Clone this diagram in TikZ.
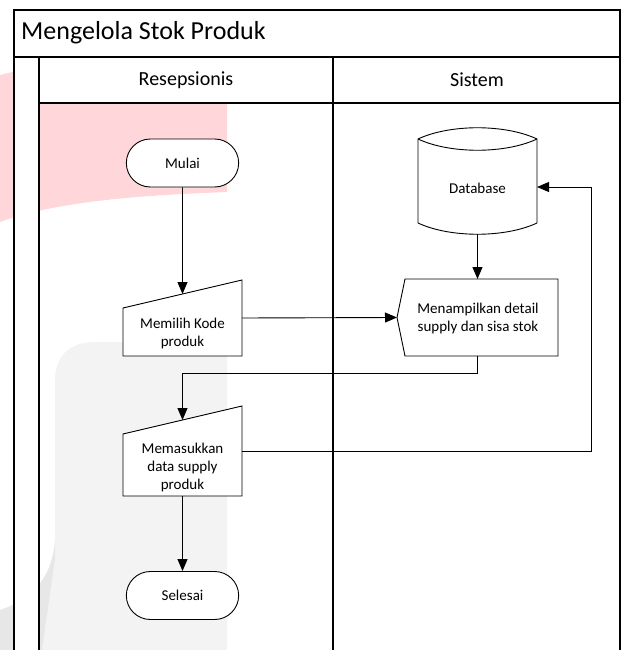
\documentclass[tikz,border=0pt]{standalone}
\usepackage{fontspec}
\setmainfont{Carlito}
\usetikzlibrary{shapes.misc,arrows.meta}
\definecolor{wmred}{RGB}{255,214,218}
\definecolor{wmgray}{RGB}{243,243,243}
\definecolor{wmgraydark}{RGB}{231,231,231}
\newcommand{\teks}[0] {\fontsize{15}{18}\selectfont}
\tikzset{
  terminal/.style={shape=rounded rectangle,draw=black,fill=white,line width=0.9pt,minimum width=119pt,minimum height=48pt,font=\teks},
  isi/.style={align=center,font=\teks,inner sep=0pt},
  garis/.style={line width=0.9pt},
  panah/.style={garis,-{Triangle[length=12pt,width=10pt]}},
}
\begin{document}
\begin{tikzpicture}[x=1pt,y=-1pt]
        \useasboundingbox (0,0) rectangle (621,650);
        %watermark
        \fill[wmred] (0,75) -- (227,20) -- (227,192) .. controls (150,195) and (60,200) .. (0,222) -- cycle;
        \fill[wmgray] (55,380) .. controls (55,356) and (70,342) .. (95,342) -- (227,342) -- (227,650) -- (42,650) -- (55,560) -- cycle;
        \fill[wmgraydark] (55,540) .. controls (52,580) and (30,600) .. (0,610) -- (0,650) -- (42,650) -- (55,560) -- cycle;
        %frame
        \fill[white] (14,10) rectangle (620,57);
        \fill[white] (14,57) rectangle (39,652);
        \fill[white] (39,57) rectangle (620,103);
        \draw[line width=1.1pt] (14,652) -- (14,10) -- (620,10) -- (620,652);
        \draw[line width=1.1pt] (14,57) -- (620,57);
        \draw[line width=1.1pt] (39,57) -- (39,652);
        \draw[line width=1.1pt] (333,57) -- (333,652);
        \draw[line width=1.1pt] (39,103) -- (620,103);
        %labels
        \node[anchor=west,inner sep=0pt,font=\fontsize{26}{30}\selectfont] (judul) at (21,33) {Mengelola Stok Produk};
        \node[font=\fontsize{20}{24}\selectfont] (resepsionis) at (186,80) {Resepsionis};
        \node[font=\fontsize{20}{24}\selectfont] (sistem) at (477,80) {Sistem};
        %resepsionis
        \node[terminal] (mulai) at (182.5,163) {Mulai};
        \draw[garis,fill=white] (123,308) -- (242,280) -- (242,356) -- (123,356) -- cycle;
        \node[isi] (memilih) at (182.5,333) {Memilih Kode\\produk};
        \coordinate (memilih-atas) at (182.5,294);
        \coordinate (memilih-kanan) at (242,318);
        \draw[garis,fill=white] (123,434) -- (242,406) -- (242,496) -- (123,496) -- cycle;
        \node[isi] (memasukkan) at (182.5,467) {Memasukkan\\data supply\\produk};
        \coordinate (memasukkan-atas) at (182.5,420);
        \coordinate (memasukkan-kanan) at (242,451);
        \coordinate (memasukkan-bawah) at (182.5,496);
        \node[terminal] (selesai) at (182.5,595.5) {Selesai};
        %sistem
        \draw[garis,fill=white] (418,139) .. controls (450,124) and (505,124) .. (537,139)
              -- (537,223) .. controls (505,238) and (450,238) .. (418,223) -- cycle;
        \draw[garis] (418,139) .. controls (450,154) and (505,154) .. (537,139);
        \node[isi] (database) at (477.5,188) {Database};
        \coordinate (database-bawah) at (477.5,234);
        \coordinate (database-kanan) at (537,187);
        \draw[garis,fill=white] (397,317.5) -- (405,279) -- (558,279) -- (558,356) -- (405,356) -- cycle;
        \node[isi] (menampilkan) at (478,318) {Menampilkan detail\\supply dan sisa stok};
        \coordinate (menampilkan-kiri) at (397,317.5);
        \coordinate (menampilkan-atas) at (477.5,279);
        \coordinate (menampilkan-bawah) at (477.5,356);
        %edges
        \path[panah] (mulai) edge (memilih-atas);
        \path[panah] (memilih-kanan) edge (menampilkan-kiri);
        \path[panah] (database-bawah) edge (menampilkan-atas);
        \draw[panah] (menampilkan-bawah) -- ++(0,17) -| (memasukkan-atas);
        \draw[panah] (memasukkan-kanan) -- ++(349,0) |- (database-kanan);
        \path[panah] (memasukkan-bawah) edge (selesai);
\end{tikzpicture}
\end{document}
